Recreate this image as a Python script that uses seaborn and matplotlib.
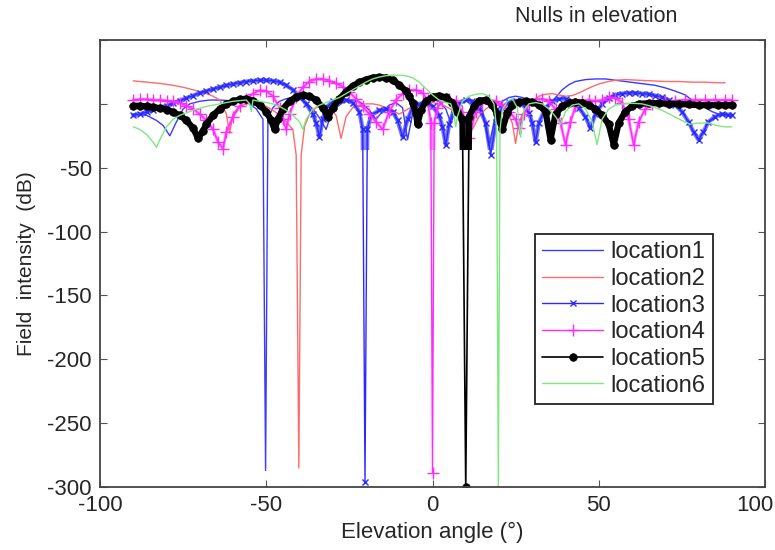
import numpy as np
import pandas as pd
import seaborn as sns
import matplotlib
matplotlib.use("Agg")
import matplotlib.pyplot as plt
import matplotlib.transforms as mtransforms

# values (angle in degrees, field intensity in dB)
loc1_angle = [-90, -86, -83, -81, -79, -77, -75, -73, -70, -67, -64, -61, -58, -55, -53, -51, -50.2, -49.5,
              -48, -46, -44, -42, -40, -38, -36, -34, -32, -31, -29, -27, -25, -23, -21, -19, -17, -15, -13,
              -11, -9, -7.5, -6, -4, -2, 0, 2, 4, 5.5, 7, 9, 11, 13, 15, 17, 19, 21, 23, 25, 27, 29, 31, 33,
              35, 37, 39, 41, 43, 46, 49, 52, 55, 58, 61, 64, 67, 70, 73, 76, 78, 80, 82, 84, 86, 88, 90]
loc1_db = [-8, -9, -13, -17, -25, -14, -4, 0, 2, 3, 3, 2.5, 2, 0, -4, -12, -287, -12,
           -3, 2, 4, 5, 4, 1, -4, -11, -20, -12, -3, 1, 3, 3, 0, -5, -12, -6, -1,
           1, -3, -28, -8, 0, 3, 4, 2, -4, -15, -4, 1, 3, 2, -5, -33, -8, 2, 5, 6, 5, 3, 0, -3,
           -1, 5, 11, 15, 17.5, 19, 19.5, 19.5, 18.5, 17.5, 16.5, 15.5, 14.5, 12.5, 10, 7, 3, 0, -3, -6, -8, -9, -10]

loc2_angle = [-90, -86, -82, -78, -75, -72, -70, -68, -66, -64, -63, -62, -61, -60, -58, -56, -54, -52, -50,
              -48, -46, -44, -42, -41, -40.2, -39.5, -38.5, -37, -35, -33, -31, -29, -27.5, -26, -24, -22,
              -20, -18, -16, -14, -12, -10, -8, -6, -4, -2, 0, 2, 4, 6, 8, 10, 12, 14, 16, 18, 20, 22, 24,
              25, 26, 28, 30, 32, 34, 36, 38, 40, 42, 44, 46, 48, 50, 52, 55, 58, 62, 66, 70, 74, 78, 82, 86, 88]
loc2_db = [18, 17, 16, 14.5, 13, 11, 9.5, 8, 6, 3, -2, -8, -23, -8, -2, 0, 1, 0, -2,
           -5, -9, -14, -20, -40, -285, -40, -18, -8, -3, -1, -3, -9, -27, -10, -3, -1,
           0, 0, -1, -3, -5, -8, -5, -2, 0, 1, 1, 0, -2, -5, -9, -14, -20, -10, -4, -1, 0, -4, -15,
           -31, -14, -3, 2, 6, 7.5, 8, 7, 6, 6.5, 8.5, 11, 13.5, 15.5, 17, 18.5, 19, 18.5, 18, 17.5, 17.5, 17, 17, 16.5, 16.5]

loc3_angle = [-90, -88, -86, -84, -82, -80, -78, -76, -74, -72, -70, -68, -66, -64, -62, -60, -58, -56, -54,
              -52, -50, -48, -46, -44, -42, -40, -38, -36, -35, -34, -33, -32, -30, -28, -26, -24, -22, -21,
              -20.3, -19.6, -18.5, -16, -14, -12, -10.5, -9, -7.5, -6, -4, -2, 0, 2, 3, 4, 5, 6.5, 8, 10,
              12, 14, 16, 17.5, 19, 21, 23, 25, 27, 29, 30, 31, 32, 34, 36, 38, 40, 42, 44, 46, 47.5, 49,
              51, 53, 55, 57, 59, 61, 63, 65, 67, 69, 71, 73, 75, 77, 78.5, 80, 81.5, 83, 85, 87, 89, 90]
loc3_db = [-9, -8, -6.5, -5, -3, -1.5, 0.5, 2.5, 4.5, 6.5, 8.5, 10, 11.5, 13, 14.5, 15.5, 16.5, 17.5, 18,
           18.5, 18.5, 18, 17, 14.5, 11, 6, 0, -8, -15, -26, -12, -3, 2, 3.5, 3, 1, -6, -20,
           -296, -20, -9, -5, -4, -6, -13, -26, -12, -3, 0, 1, -2, -9, -18, -32, -16, -4, 1, 3,
           2, -3, -15, -40, -14, -3, 1.5, 2.5, 0, -7, -15, -30, -15, -3, 2, 4, 4, 2, -3, -10, -19, -8,
           0, 4.5, 7, 8, 8.5, 8.5, 8, 7.5, 6.5, 5, 3, -1, -6, -14, -22, -28, -22, -14, -10, -8, -8.5, -9]

loc4_angle = [-90, -88, -86, -84, -82, -80, -78, -76, -74, -72, -70, -68, -66, -64.5, -63, -62, -60, -58,
              -56, -54, -52, -50, -48, -46, -45, -44, -43, -41, -39, -37, -35, -33, -31, -29, -27, -25, -23,
              -21, -19, -17, -15, -13, -11, -9, -7, -5, -3, -1.5, -0.5, 0, 0.5, 1.5, 3, 5, 7, 9, 11, 13, 15,
              17, 19, 21, 23, 25, 26, 27.5, 29, 31, 33, 35, 37, 38.5, 40, 41.5, 43, 45, 47, 49, 51, 53, 55,
              57, 59, 60.5, 62, 64, 66, 68, 70, 73, 76, 79, 82, 85, 88, 90]
loc4_db = [3, 3.5, 3.5, 3, 3, 2.5, 2, 0.5, -1.5, -4, -8, -13, -20, -30, -35, -22, -10, -2,
           4, 8, 10.5, 10, 6, -3, -12, -20, -8, 5, 13, 17.5, 19.5, 19.5, 18, 16, 13.5, 9, 4,
           -2, -8, -14, -20, -6, 3, 8, 10.5, 11, 8.5, 3, -15, -289, -15, -3, 2, 3.5, 2, -6, -27, -6, 1,
           3, 2, -1, -6, -12, -19, -8, 0, 3.5, 4, 2, -4, -15, -32, -14, -2, 2.5, 3, 2, 3, 5, 4.5,
           1, -12, -32, -14, -4, 0, 1.5, 2, 2.5, 3, 3, 3, 3, 3, 3]

loc5_angle = [-90, -88, -86, -84, -82, -80, -78, -76, -74, -72, -70.5, -69, -68, -66, -64, -62, -60, -58,
              -56, -54, -52, -50, -48.5, -47.5, -46.5, -45, -43, -41, -39, -37, -35, -33, -31.5, -30, -28,
              -26, -24, -22, -20, -18, -16, -14, -12, -10, -8, -7, -6, -5, -4.5, -3.5, -2, 0, 2, 4, 6, 7.5,
              9, 10, 11, 12.5, 14, 16, 18, 19.5, 21, 22.5, 24, 26, 28, 30, 32, 34, 35.5, 37, 39, 41, 43,
              45, 47, 49, 51, 53, 54.5, 56, 58, 60, 62, 65, 68, 71, 74, 77, 80, 83, 86, 88, 90]
loc5_db = [-1.5, -1.5, -2, -2.5, -3.5, -4.5, -6.5, -9, -13, -19, -27, -21, -16, -9, -4, -0.5, 2, 3.5,
           4, 2.5, -1, -6, -13, -20, -12, -4, 2, 5.5, 7, 6, 3, -3, -10, -3, 4,
           9.5, 14, 17, 19, 20.5, 21, 20.5, 18.5, 15, 10, 6, 1, -7, -16, -5, 2, 5.5, 6.5, 5, 1, -6,
           -12, -300, -10, -2, 2.5, 3, -1, -8, -20, -7, -1, 1.5, 2, 1.5, -1, -6, -28, -8, -2, 0.5, 1.5,
           1, -1, -4, -9, -16, -32, -15, -6, -2, 0, 0.5, 0.5, 0, 0, -0.5, -1, -1, -1, -1, -1]

loc6_angle = [-90, -88, -86, -84, -83, -82, -80, -78, -76, -74, -72, -70, -68, -66, -64, -62, -60, -58,
              -56, -55, -54.5, -54, -52, -50, -48, -46, -44, -42, -40, -39, -38, -36, -34, -32, -30, -28,
              -26, -24, -22, -20, -18, -16, -14, -12, -10, -8, -6, -4, -2, 0, 2, 4, 5.5, 6.5, 7, 7.5, 9,
              11, 13, 15, 17, 18.5, 19.3, 19.8, 20.3, 21, 22.5, 24, 25.5, 26.5, 27.5, 29, 31, 33, 35, 37,
              38.5, 40, 42, 44, 46, 48, 49.5, 51, 53, 55, 57.5, 60, 63, 66, 69, 72, 75, 77.5, 80, 83, 85.5, 88, 90]
loc6_db = [-18, -20, -24, -30, -34, -28, -18, -12, -9, -7, -5, -3.5, -2, -1, 0, 1, 2, 2.5,
           3, 0, -6, 3, 2, 1, 0, -2, -5, -9, -14, -20, -12, -4, -1, 1, 3, 5,
           8, 11, 14, 17, 19.5, 21, 22, 22.5, 22.5, 22, 20.5, 17, 12, 7, 3, 1, 0, -10, -18, -10, 2,
           6, 7.5, 8, 6, 0, -20, -300, -20, -5, 2, 4, -3, -26, -5, 0, 1, 0, -4, -10,
           -16, -6, -1, 0, -4, -14, -32, -12, -4, -1, 0, 0.5, 0, -2, -5, -9, -13, -16, -15, -15, -17, -18, -18]

labels = ["location1", "location2", "location3", "location4", "location5", "location6"]
angles = [loc1_angle, loc2_angle, loc3_angle, loc4_angle, loc5_angle, loc6_angle]
values = [loc1_db, loc2_db, loc3_db, loc4_db, loc5_db, loc6_db]

x_ticks = [-100, -50, 0, 50, 100]
y_ticks = [-300, -250, -200, -150, -100, -50, 0, 50]
y_ticklabels = ["-300", "-250", "-200", "-150", "-100", "-50", "", ""]

# line styles in the MATLAB look; "band" = width of the dense-marker trail
styles = [
    dict(color="#3a3aff", lw=1.0, marker=None, band=0),
    dict(color="#ff6a6a", lw=1.0, marker=None, band=0),
    dict(color="#2a2aff", lw=1.0, marker="x", ms=5, mew=1.0, band=3.0, alpha=0.65),
    dict(color="#ff2aff", lw=1.0, marker="+", ms=8, mew=1.0, band=2.2, alpha=0.5),
    dict(color="#000000", lw=1.2, marker=".", ms=11, mew=0.5, band=4.5, alpha=1.0),
    dict(color="#7fe87f", lw=1.0, marker=None, band=0),
]

sns.set_style("ticks")
plt.rcParams["font.family"] = ["Liberation Sans", "DejaVu Sans"]
plt.rcParams["axes.unicode_minus"] = False

fig = plt.figure(figsize=(7.75, 5.5), dpi=100)
ax = fig.add_axes([100 / 775, 1 - 487 / 550, 665 / 775, 447 / 550])

# the marker trail only covers the side-lobe region, not the deep nulls
band_clip = mtransforms.TransformedBbox(mtransforms.Bbox([[-100, -36], [100, 50]]), ax.transData)

for lab, a, v, st in zip(labels, angles, values, styles):
    df = pd.DataFrame({"angle": a, "db": v})
    if st["band"]:
        sns.lineplot(data=df, x="angle", y="db", ax=ax, estimator=None, sort=False,
                     color=st["color"], lw=st["band"], alpha=st["alpha"], legend=False)
        ax.lines[-1].set_clip_box(band_clip)
    kw = dict(color=st["color"], lw=st["lw"], label=lab)
    if st["marker"]:
        kw.update(marker=st["marker"], markersize=st["ms"], markeredgewidth=st["mew"],
                  markeredgecolor=st["color"], markerfacecolor=st["color"])
    sns.lineplot(data=df, x="angle", y="db", ax=ax, estimator=None, sort=False, **kw)

ax.set_xlim(-100, 100)
ax.set_ylim(-300, 50)
ax.set_xticks(x_ticks)
ax.set_yticks(y_ticks)
ax.set_yticklabels(y_ticklabels)
ax.tick_params(direction="in", top=True, right=True, length=5, width=0.8,
               color="#555555", labelsize=16, pad=6)
# the last x label sits against the figure edge in the reference
last = ax.get_xticklabels()[-1]
last.set_transform(last.get_transform() + mtransforms.ScaledTranslation(-10 / 100, 0, fig.dpi_scale_trans))
for s in ax.spines.values():
    s.set_visible(True)
    s.set_color("#444444")
    s.set_linewidth(1.3)

ax.set_xlabel("Elevation angle (°)", fontsize=16, labelpad=4)
ax.set_ylabel("Field  intensity  (dB)", fontsize=15, labelpad=8)
fig.text(596 / 775, 1 - 17 / 550, "Nulls in elevation", fontsize=15.5, ha="center", va="center")

leg = ax.legend(loc="upper left", bbox_to_anchor=(0.654, 0.566), fontsize=17, frameon=True,
                fancybox=False, edgecolor="#222222", framealpha=1, handlelength=2.6,
                handletextpad=0.3, labelspacing=0.2, borderpad=0.3, borderaxespad=0)
leg.get_frame().set_linewidth(1.3)

fig.savefig("out.png", dpi=100)
